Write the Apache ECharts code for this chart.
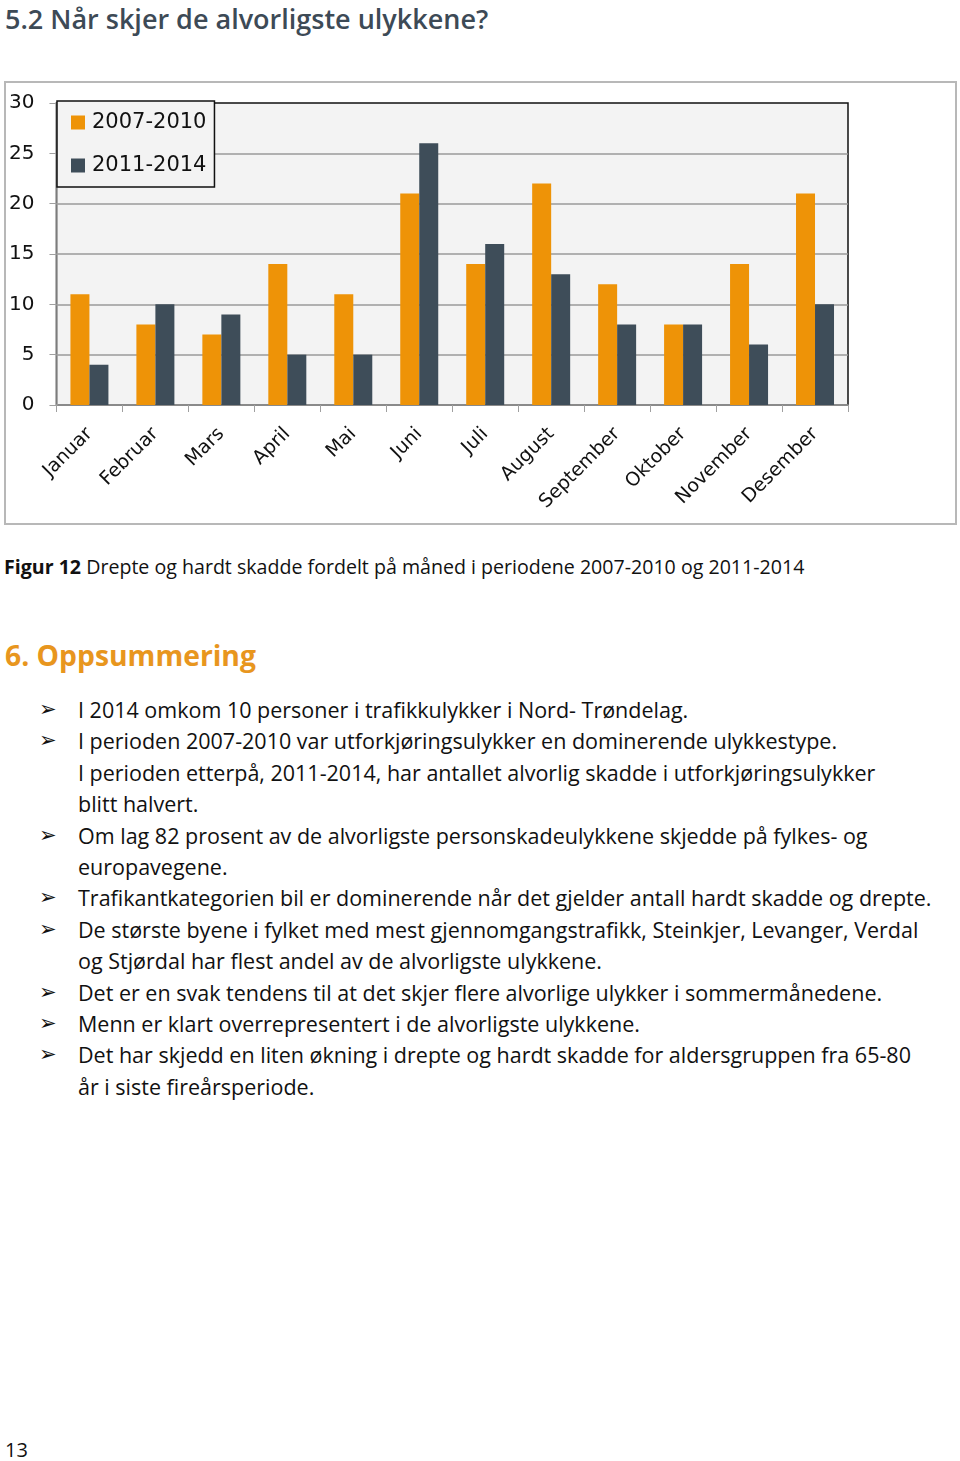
<!DOCTYPE html>
<html>
<head>
<meta charset="utf-8">
<script src="https://cdn.jsdelivr.net/npm/echarts@6/dist/echarts.min.js"></script>
<style>
    body { margin: 0; background: #ffffff; width: 960px; height: 1461px; position: relative; overflow: hidden; }
    .page-title { position: absolute; left: 5px; top: 0px; font-family: "Open Sans", sans-serif; font-weight: 600; font-size: 27px; color: #3d4a56; white-space: nowrap; }
    #chartBox { position: absolute; left: 4px; top: 81px; width: 953px; height: 444px; box-sizing: border-box; border: 2px solid #b8b8b8; }
    .body-text { font-family: "Open Sans", sans-serif; font-size: 21.5px; color: #111; white-space: nowrap; }
    .caption { position: absolute; left: 4px; top: 553px; font-size: 19.6px; }
    .caption b { font-weight: 700; }
    .section { position: absolute; left: 5px; top: 636px; font-family: "Open Sans", sans-serif; font-weight: 700; font-size: 28.3px; color: #e8961e; }
    ul.points { position: absolute; left: 0; top: 694px; margin: 0; padding: 0; list-style: none; line-height: 31.4px; }
    ul.points li { position: relative; padding-left: 78px; }
    ul.points li .arrow { position: absolute; left: 39px; top: 0; font-family: "DejaVu Sans", sans-serif; font-size: 21px; }
    .page-no { position: absolute; left: 5px; top: 1436px; font-family: "Open Sans", sans-serif; font-size: 20px; color: #111; }
</style>
</head>
<body>
<div class="page-title">5.2 Når skjer de alvorligste ulykkene?</div>
<div id="chartBox"></div>
<div class="caption body-text"><b>Figur 12</b> Drepte og hardt skadde fordelt på måned i periodene 2007-2010 og 2011-2014</div>
<div class="section">6. Oppsummering</div>
<ul class="points body-text">
    <li><span class="arrow">➢</span>I 2014 omkom 10 personer i trafikkulykker i Nord- Trøndelag.</li>
    <li><span class="arrow">➢</span>I perioden 2007-2010 var utforkjøringsulykker en dominerende ulykkestype.<br>I perioden etterpå, 2011-2014, har antallet alvorlig skadde i utforkjøringsulykker<br>blitt halvert.</li>
    <li><span class="arrow">➢</span>Om lag 82 prosent av de alvorligste personskadeulykkene skjedde på fylkes- og<br>europavegene.</li>
    <li><span class="arrow">➢</span>Trafikantkategorien bil er dominerende når det gjelder antall hardt skadde og drepte.</li>
    <li><span class="arrow">➢</span>De største byene i fylket med mest gjennomgangstrafikk, Steinkjer, Levanger, Verdal<br>og Stjørdal har flest andel av de alvorligste ulykkene.</li>
    <li><span class="arrow">➢</span>Det er en svak tendens til at det skjer flere alvorlige ulykker i sommermånedene.</li>
    <li><span class="arrow">➢</span>Menn er klart overrepresentert i de alvorligste ulykkene.</li>
    <li><span class="arrow">➢</span>Det har skjedd en liten økning i drepte og hardt skadde for aldersgruppen fra 65-80<br>år i siste fireårsperiode.</li>
</ul>
<div class="page-no">13</div>

<script>
    // data
    var months = ['Januar', 'Februar', 'Mars', 'April', 'Mai', 'Juni', 'Juli', 'August', 'September', 'Oktober', 'November', 'Desember'];
    var period1Name = '2007-2010';
    var period2Name = '2011-2014';
    var period1 = [11, 8, 7, 14, 11, 21, 14, 22, 12, 8, 14, 21];
    var period2 = [4, 10, 9, 5, 5, 26, 16, 13, 8, 8, 6, 10];

    var chartFont = 'DejaVu Sans';
    var chart = echarts.init(document.getElementById('chartBox'));
    var options = {
        animation: false,
        textStyle: { fontFamily: chartFont },
        color: ['#ee9307', '#3e4d59'],
        legend: {
            data: [period1Name, period2Name],
            orient: 'vertical',
            left: 51,
            top: 18,
            padding: [11, 8, 11, 14],
            itemWidth: 14,
            itemHeight: 14,
            itemGap: 22,
            backgroundColor: '#f3f3f3',
            borderColor: '#111',
            borderWidth: 1.5,
            borderRadius: 0,
            icon: 'rect',
            textStyle: { fontFamily: chartFont, fontSize: 21, color: '#111', padding: [0, 0, 0, 2] }
        },
        grid: {
            left: 49,
            top: 20,
            right: 107,
            bottom: 118,
            show: true,
            backgroundColor: '#f3f3f3',
            borderColor: '#111',
            borderWidth: 1.5
        },
        xAxis: [{
            type: 'category',
            data: months,
            axisLine: { lineStyle: { color: '#a0a0a0', width: 1.5 } },
            axisTick: { show: true, length: 7, lineStyle: { color: '#a0a0a0' } },
            axisLabel: { interval: 0, rotate: 45, margin: 26, fontSize: 19, color: '#111', fontFamily: chartFont }
        }],
        yAxis: [{
            type: 'value',
            min: 0,
            max: 30,
            interval: 5,
            axisLine: { show: true, lineStyle: { color: '#a0a0a0', width: 1.5 } },
            axisTick: { show: true, length: 7, lineStyle: { color: '#a0a0a0' } },
            axisLabel: { margin: 22, fontSize: 20, color: '#111', fontFamily: chartFont },
            splitLine: { show: true, showMinLine: false, showMaxLine: false, lineStyle: { color: '#9a9a9a', width: 1.5 } }
        }],
        series: [
            { name: period1Name, type: 'bar', data: period1, barWidth: 19, barGap: '0%' },
            { name: period2Name, type: 'bar', data: period2, barWidth: 19, barGap: '0%' }
        ]
    };
    chart.setOption(options);
</script>
</body>
</html>
